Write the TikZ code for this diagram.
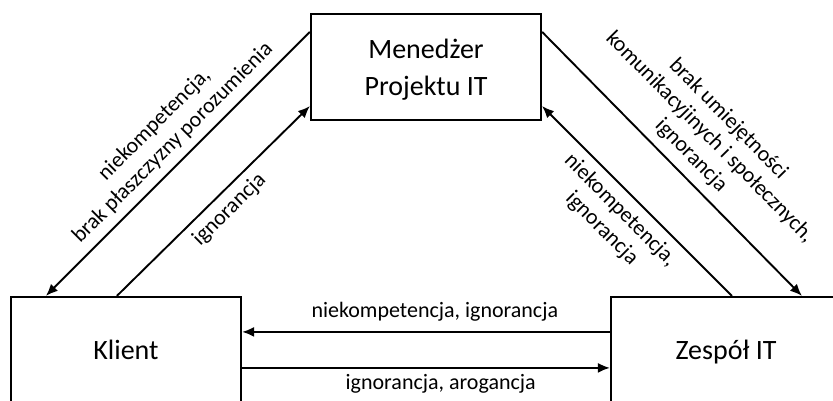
\documentclass[tikz,border=0pt]{standalone}
\usepackage{fontspec}
\setmainfont{Carlito}
\usetikzlibrary{arrows.meta,calc}

\tikzset{
  box/.style={draw, line width=2.2pt, minimum width=230pt, minimum height=106pt,
    inner sep=0pt, align=center, font=\fontsize{28}{37}\selectfont,
    text height=20pt, text depth=2pt},
  arr/.style={line width=1.9pt, -{Latex[length=12pt,width=10pt]}},
  lbl/.style={font=\fontsize{22}{26}\selectfont, align=center, inner sep=3pt}
}

\begin{document}
\begin{tikzpicture}[x=1pt,y=-1pt]
  \useasboundingbox (0,0) rectangle (833,400);
  \clip (0,0) rectangle (833,400);

  % the three parties
  \node[box, text height=58pt, text depth=2pt] (m) at (426,67) {Menedżer\\Projektu IT};
  \node[box] (k) at (126,350) {Klient};
  \node[box] (z) at (726,350) {Zespół IT};

  % attachment points on the box borders
  \coordinate (mwA) at ($(m.north west)+(0,19)$);
  \coordinate (mwB) at ($(m.south west)+(0,-15)$);
  \coordinate (meA) at ($(m.north east)+(0,19)$);
  \coordinate (meB) at ($(m.south east)+(0,-15)$);
  \coordinate (kA) at ($(k.north west)+(36,0)$);
  \coordinate (kB) at ($(k.north west)+(107,0)$);
  \coordinate (zA) at ($(z.north west)+(122,0)$);
  \coordinate (zB) at ($(z.north west)+(192,0)$);
  \coordinate (keU) at ($(k.north east)+(0,36)$);
  \coordinate (keL) at ($(k.north east)+(0,72)$);
  \coordinate (zwU) at ($(z.north west)+(0,36)$);
  \coordinate (zwL) at ($(z.north west)+(0,72)$);

  % manager <-> client
  \draw[arr] (mwA) -- node[lbl, sloped, above=5pt, pos=.47]
    {niekompetencja,\\brak płaszczyzny porozumienia} (kA);
  \draw[arr] (kB) -- node[lbl, sloped, below=4pt, pos=.52] {ignorancja} (mwB);

  % manager <-> team
  \draw[arr] (meA) -- node[lbl, sloped, above=6pt, pos=.52]
    {brak umiejętności\\komunikacyjinych i społecznych,\\ignorancja} (zB);
  \draw[arr] (zA) -- node[lbl, sloped, below=5pt, pos=.52]
    {niekompetencja,\\ignorancja} (meB);

  % client <-> team
  \draw[arr] (zwU) -- node[lbl, above=7pt, pos=.476] {niekompetencja, ignorancja} (keU);
  \draw[arr] (keL) -- node[lbl, below=3pt, pos=.54] {ignorancja, arogancja} (zwL);
\end{tikzpicture}
\end{document}
